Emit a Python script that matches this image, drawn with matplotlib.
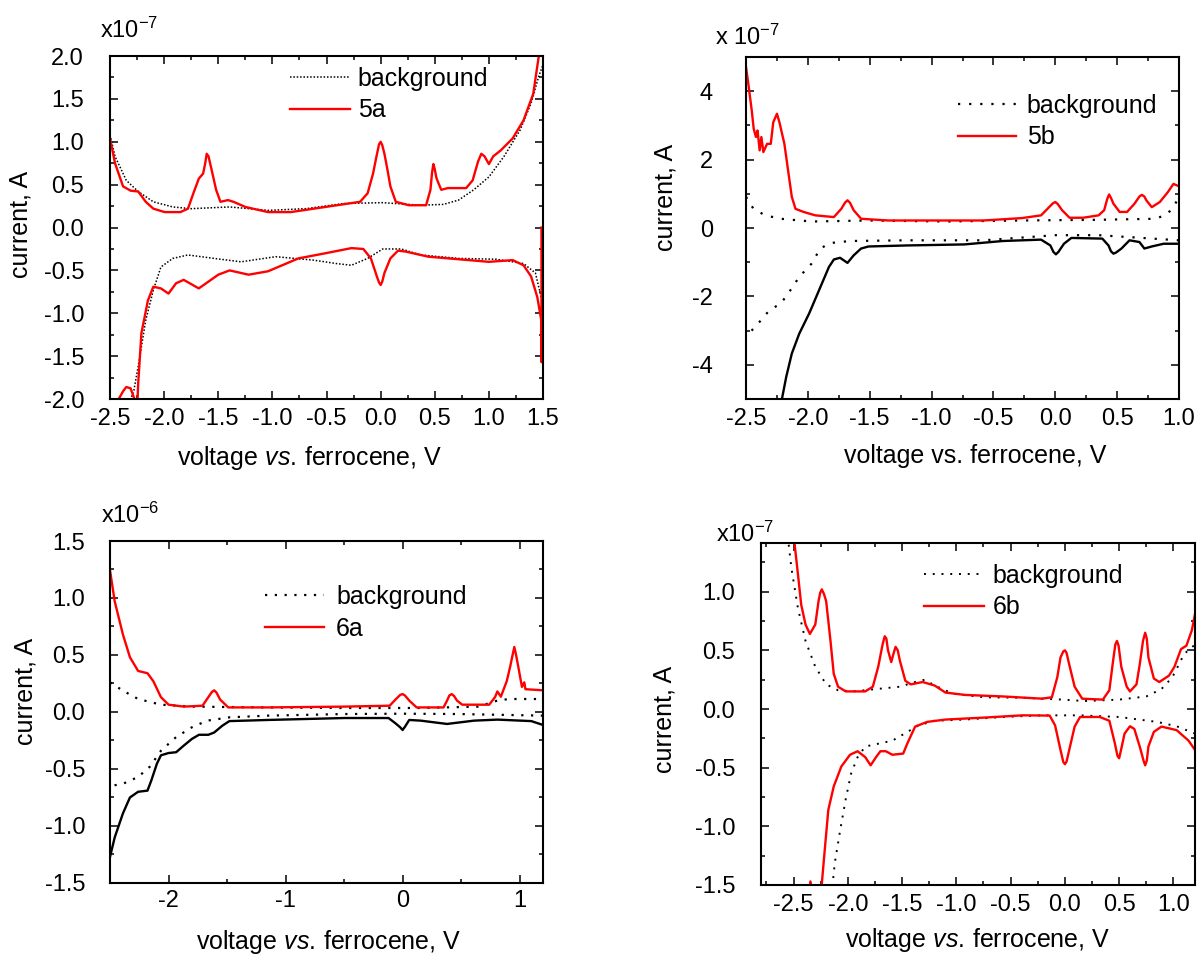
import matplotlib

matplotlib.use("Agg")
import matplotlib.pyplot as plt
from matplotlib.ticker import FormatStrFormatter, MultipleLocator

plt.rcParams["font.family"] = ["Liberation Sans", "DejaVu Sans"]
plt.rcParams["mathtext.fontset"] = "custom"
plt.rcParams["mathtext.rm"] = "Liberation Sans"
plt.rcParams["mathtext.it"] = "Liberation Sans:italic"
plt.rcParams["axes.unicode_minus"] = False

RED = "#ff0000"

# ---- 5a (current in 1e-7 A) ----
A5_SAMPLE_FWD_V = [-2.5, -2.454, -2.38, -2.31, -2.24, -2.17, -2.10, -1.995, -1.85, -1.78, -1.73, -1.68,
                   -1.64, -1.622, -1.607, -1.59, -1.57, -1.52, -1.48, -1.41, -1.36, -1.25, -1.04, -0.83,
                   -0.51, -0.19, -0.12, -0.07, -0.04, -0.015, 0.0, 0.015, 0.035, 0.065, 0.09, 0.14, 0.26,
                   0.42, 0.46, 0.475, 0.487, 0.50, 0.515, 0.53, 0.56, 0.62, 0.79, 0.85, 0.90, 0.93, 0.96,
                   1.0, 1.04, 1.11, 1.22, 1.32, 1.41, 1.46, 1.50]
A5_SAMPLE_FWD_I = [1.04, 0.75, 0.48, 0.43, 0.42, 0.30, 0.22, 0.18, 0.18, 0.22, 0.40, 0.57,
                   0.63, 0.74, 0.86, 0.83, 0.72, 0.44, 0.30, 0.32, 0.30, 0.24, 0.18, 0.18,
                   0.24, 0.30, 0.40, 0.63, 0.82, 0.97, 1.0, 0.96, 0.86, 0.66, 0.48, 0.30, 0.26,
                   0.26, 0.44, 0.64, 0.74, 0.68, 0.58, 0.53, 0.44, 0.46, 0.46, 0.55, 0.77, 0.86, 0.83,
                   0.74, 0.83, 0.90, 1.04, 1.25, 1.56, 1.99, 2.2]
A5_SAMPLE_REV_V = [1.486, 1.486, 1.484, 1.447, 1.39, 1.32, 1.22, 1.0, 0.72, 0.44, 0.23, 0.16, 0.09, 0.035,
                   0.015, 0.0, -0.015, -0.035, -0.09, -0.16, -0.27, -0.51, -0.76, -1.04, -1.22, -1.395,
                   -1.50, -1.68, -1.82, -1.89, -1.96, -2.03, -2.10, -2.15, -2.21, -2.24, -2.255, -2.265,
                   -2.275, -2.31, -2.35, -2.38, -2.42, -2.44]
A5_SAMPLE_REV_I = [0.0, -1.57, -1.08, -0.81, -0.57, -0.44, -0.38, -0.40, -0.37, -0.34, -0.28, -0.27, -0.36, -0.53,
                   -0.63, -0.67, -0.64, -0.57, -0.36, -0.25, -0.24, -0.30, -0.36, -0.51, -0.55, -0.50,
                   -0.55, -0.71, -0.61, -0.65, -0.77, -0.71, -0.69, -0.85, -1.23, -1.82, -2.3, -2.3,
                   -2.0, -1.875, -1.86, -1.91, -2.0, -2.2]
A5_BG_FWD_V = [-2.5, -2.454, -2.35, -2.24, -2.10, -1.92, -1.75, -1.395, -1.04, -0.69, -0.34, 0.02, 0.37,
               0.58, 0.72, 0.86, 1.0, 1.14, 1.29, 1.39, 1.46, 1.5]
A5_BG_FWD_I = [1.08, 0.83, 0.55, 0.42, 0.30, 0.24, 0.22, 0.24, 0.20, 0.22, 0.28, 0.29, 0.26,
               0.27, 0.32, 0.44, 0.59, 0.83, 1.14, 1.45, 1.76, 1.90]
A5_BG_REV_V = [1.49, 1.43, 1.32, 1.07, 0.72, 0.37, 0.19, 0.02, -0.12, -0.27, -0.41, -0.62, -0.97, -1.29,
               -1.54, -1.78, -1.92, -2.03, -2.10, -2.17, -2.24, -2.28, -2.31, -2.33]
A5_BG_REV_I = [-0.85, -0.53, -0.42, -0.37, -0.36, -0.32, -0.25, -0.25, -0.36, -0.44, -0.42, -0.38, -0.34, -0.40,
               -0.36, -0.32, -0.36, -0.46, -0.73, -1.08, -1.62, -1.90, -2.0, -2.2]

# ---- 5b (current in 1e-7 A) ----
B5_SAMPLE_FWD_V = [-2.5, -2.485, -2.454, -2.438, -2.42, -2.407, -2.39, -2.376, -2.36, -2.33, -2.30, -2.28,
                   -2.25, -2.23, -2.19, -2.16, -2.13, -2.10, -2.035, -1.94, -1.79, -1.73, -1.70, -1.68,
                   -1.66, -1.63, -1.57, -1.35, -0.89, -0.58, -0.27, -0.115, -0.05, -0.02, 0.0, 0.02, 0.055,
                   0.115, 0.225, 0.35, 0.395, 0.42, 0.435, 0.45, 0.47, 0.52, 0.58, 0.64, 0.68, 0.70, 0.72,
                   0.736, 0.78, 0.845, 0.91, 0.955, 1.0]
B5_SAMPLE_FWD_I = [4.70, 4.31, 3.44, 2.90, 2.66, 2.85, 2.27, 2.66, 2.22, 2.46, 2.46, 3.09,
                   3.34, 3.09, 2.46, 1.68, 0.91, 0.56, 0.47, 0.37, 0.32, 0.56, 0.74, 0.81,
                   0.74, 0.52, 0.27, 0.22, 0.22, 0.22, 0.29, 0.37, 0.61, 0.72, 0.76, 0.70, 0.52,
                   0.30, 0.30, 0.37, 0.52, 0.85, 0.98, 0.88, 0.71, 0.47, 0.47, 0.71, 0.92, 0.97, 0.92,
                   0.81, 0.61, 0.76, 1.05, 1.29, 1.22]
B5_SAMPLE_REV_V = [1.0, 0.876, 0.78, 0.72, 0.68, 0.60, 0.535, 0.49, 0.47, 0.45, 0.43, 0.38, 0.13, 0.07, 0.025,
                   0.005, -0.015, -0.04, -0.115, -0.425, -0.735, -1.20, -1.51, -1.57, -1.63, -1.68, -1.74,
                   -1.79, -1.83, -1.91, -1.99, -2.07, -2.13, -2.175, -2.21, -2.23]
B5_SAMPLE_REV_I = [-0.46, -0.46, -0.54, -0.60, -0.41, -0.36, -0.60, -0.72, -0.75, -0.68, -0.51, -0.31, -0.29,
                   -0.46, -0.70, -0.77, -0.70, -0.51, -0.34, -0.38, -0.48, -0.51, -0.54, -0.60, -0.80,
                   -1.02, -0.87, -0.92, -1.14, -1.82, -2.50, -3.09, -3.67, -4.35, -5.0, -5.5]
B5_BG_FWD_V = [-2.5, -2.44, -2.345, -2.22, -1.97, -1.51, -0.89, -0.27, 0.35, 0.815, 0.91, 0.97, 1.0]
B5_BG_FWD_I = [0.91, 0.56, 0.37, 0.27, 0.19, 0.22, 0.19, 0.22, 0.24, 0.27, 0.42, 0.71, 0.91]
B5_BG_REV_V = [1.0, 0.66, 0.35, 0.0, -0.27, -0.58, -1.20, -1.66, -1.82, -1.90, -1.97, -2.07, -2.16, -2.22,
               -2.31, -2.38, -2.44, -2.5]
B5_BG_REV_I = [-0.36, -0.28, -0.21, -0.21, -0.28, -0.36, -0.36, -0.38, -0.44, -0.60, -1.04, -1.43, -1.92, -2.21,
               -2.40, -2.70, -2.94, -3.18]

# ---- 6a (current in 1e-6 A) ----
A6_SAMPLE_FWD_V = [-2.5, -2.46, -2.39, -2.33, -2.26, -2.18, -2.13, -2.065, -2.0, -1.87, -1.71, -1.66, -1.63,
                   -1.61, -1.59, -1.56, -1.49, -1.15, -0.50, -0.11, -0.06, -0.02, 0.0, 0.02, 0.057, 0.12,
                   0.35, 0.38, 0.40, 0.42, 0.44, 0.465, 0.51, 0.74, 0.79, 0.81, 0.84, 0.89, 0.92, 0.94,
                   0.955, 0.97, 0.99, 1.02, 1.04, 1.05, 1.2]
A6_SAMPLE_FWD_I = [1.24, 0.97, 0.68, 0.48, 0.36, 0.34, 0.27, 0.13, 0.064, 0.047, 0.055, 0.13, 0.175,
                   0.19, 0.17, 0.11, 0.04, 0.04, 0.047, 0.055, 0.11, 0.15, 0.157, 0.145, 0.10, 0.04,
                   0.04, 0.10, 0.145, 0.157, 0.14, 0.10, 0.064, 0.064, 0.13, 0.18, 0.134, 0.27, 0.40, 0.50,
                   0.57, 0.50, 0.39, 0.22, 0.26, 0.20, 0.19]
A6_SAMPLE_REV_V = [1.2, 1.10, 0.81, 0.61, 0.38, 0.155, 0.057, 0.02, 0.0, -0.02, -0.06, -0.12, -0.50, -1.15,
                   -1.48, -1.54, -1.61, -1.66, -1.74, -1.80, -1.87, -1.935, -2.0, -2.065, -2.10, -2.147,
                   -2.18, -2.26, -2.33, -2.39, -2.46, -2.5]
A6_SAMPLE_REV_I = [-0.114, -0.08, -0.067, -0.076, -0.105, -0.076, -0.07, -0.13, -0.158, -0.135, -0.10, -0.053,
                   -0.053, -0.07, -0.08, -0.12, -0.18, -0.20, -0.20, -0.236, -0.295, -0.353, -0.36, -0.38,
                   -0.455, -0.60, -0.69, -0.70, -0.75, -0.89, -1.10, -1.27]
A6_BG_FWD_V = [-2.5, -2.39, -2.26, -2.065, -1.80, -1.15, -0.50, 0.155, 0.645, 0.81, 0.91, 1.2]
A6_BG_FWD_I = [0.26, 0.187, 0.114, 0.064, 0.047, 0.04, 0.035, 0.035, 0.047, 0.10, 0.114, 0.114]
A6_BG_REV_V = [1.2, 0.48, 0.0, -0.5, -1.15, -1.48, -1.67, -1.80, -1.935, -2.065, -2.16, -2.26, -2.39, -2.5]
A6_BG_REV_I = [-0.032, -0.018, -0.015, -0.018, -0.032, -0.047, -0.076, -0.134, -0.22, -0.34, -0.48, -0.57,
               -0.63, -0.65]

# ---- 6b (current in 1e-7 A) ----
B6_SAMPLE_FWD_V = [-2.49, -2.46, -2.43, -2.39, -2.35, -2.30, -2.27, -2.255, -2.24, -2.22, -2.20, -2.16, -2.13,
                   -2.09, -2.02, -1.84, -1.77, -1.72, -1.68, -1.66, -1.645, -1.63, -1.60, -1.58, -1.56,
                   -1.54, -1.52, -1.47, -1.42, -1.31, -1.20, -1.10, -0.92, -0.57, -0.21, -0.12, -0.07,
                   -0.04, -0.015, 0.0, 0.015, 0.04, 0.09, 0.16, 0.35, 0.41, 0.44, 0.465, 0.48, 0.495,
                   0.52, 0.57, 0.60, 0.66, 0.69, 0.72, 0.74, 0.755, 0.77, 0.82, 0.87, 0.96, 1.01, 1.07,
                   1.12, 1.17, 1.2]
B6_SAMPLE_FWD_I = [1.40, 1.15, 0.89, 0.72, 0.64, 0.72, 0.92, 0.99, 1.02, 0.98, 0.92, 0.58, 0.30,
                   0.19, 0.15, 0.15, 0.19, 0.36, 0.55, 0.62, 0.60, 0.50, 0.40, 0.47, 0.53,
                   0.50, 0.41, 0.24, 0.21, 0.23, 0.20, 0.14, 0.12, 0.107, 0.088, 0.10, 0.27,
                   0.44, 0.49, 0.50, 0.48, 0.38, 0.19, 0.088, 0.08, 0.16, 0.38, 0.55, 0.58, 0.54,
                   0.36, 0.19, 0.15, 0.21, 0.38, 0.58, 0.65, 0.60, 0.44, 0.26, 0.23, 0.285, 0.36, 0.51,
                   0.54, 0.67, 0.81]
B6_SAMPLE_REV_V = [1.2, 1.14, 1.03, 0.89, 0.82, 0.77, 0.755, 0.74, 0.725, 0.69, 0.64, 0.60, 0.55, 0.515,
                   0.50, 0.485, 0.46, 0.41, 0.32, 0.14, 0.09, 0.04, 0.015, 0.0, -0.015, -0.04, -0.09, -0.14,
                   -0.39, -0.74, -1.10, -1.27, -1.38, -1.45, -1.49, -1.59, -1.65, -1.70, -1.74, -1.79,
                   -1.84, -1.91, -1.98, -2.06, -2.13, -2.18, -2.21, -2.24, -2.25, -2.32, -2.345, -2.36]
B6_SAMPLE_REV_I = [-0.35, -0.27, -0.18, -0.15, -0.195, -0.32, -0.44, -0.48, -0.44, -0.32, -0.17, -0.147, -0.21,
                   -0.36, -0.42, -0.40, -0.29, -0.10, -0.068, -0.068, -0.15, -0.35, -0.45, -0.47, -0.45,
                   -0.35, -0.14, -0.056, -0.054, -0.073, -0.09, -0.11, -0.15, -0.29, -0.38, -0.39, -0.36,
                   -0.36, -0.41, -0.48, -0.41, -0.36, -0.39, -0.49, -0.66, -0.86, -1.17, -1.49, -1.6,
                   -1.6, -1.47, -1.6]
B6_BG_FWD_V = [-2.545, -2.52, -2.46, -2.39, -2.30, -2.20, -2.09, -1.95, -1.74, -1.52, -1.38, -1.29, -1.20,
               -1.03, -0.74, -0.39, -0.02, 0.18, 0.50, 0.75, 0.89, 0.99, 1.10, 1.2]
B6_BG_FWD_I = [1.40, 1.20, 0.86, 0.58, 0.36, 0.21, 0.16, 0.15, 0.17, 0.19, 0.23, 0.25, 0.20,
               0.13, 0.10, 0.096, 0.08, 0.068, 0.08, 0.107, 0.17, 0.27, 0.47, 0.55]
B6_BG_REV_V = [1.2, 1.03, 0.85, 0.50, 0.14, -0.21, -0.57, -0.92, -1.20, -1.35, -1.45, -1.59, -1.74, -1.84,
               -1.91, -1.97, -2.02, -2.07, -2.12, -2.14, -2.16]
B6_BG_REV_I = [-0.21, -0.147, -0.11, -0.068, -0.054, -0.054, -0.068, -0.09, -0.10, -0.14, -0.195, -0.27, -0.30,
               -0.32, -0.41, -0.55, -0.77, -1.03, -1.31, -1.49, -1.6]


def style_axes(ax, xlim, ylim, xmaj, xmin, ymaj, ymin, xfmt, yfmt, xpad, ypad):
    ax.set_xlim(*xlim)
    ax.set_ylim(*ylim)
    ax.xaxis.set_major_locator(MultipleLocator(xmaj))
    ax.xaxis.set_minor_locator(MultipleLocator(xmin))
    ax.yaxis.set_major_locator(MultipleLocator(ymaj))
    ax.yaxis.set_minor_locator(MultipleLocator(ymin))
    ax.xaxis.set_major_formatter(FormatStrFormatter(xfmt))
    ax.yaxis.set_major_formatter(FormatStrFormatter(yfmt))
    ax.tick_params(which="both", direction="in", top=True, right=True, width=1.1, labelsize=17)
    ax.tick_params(which="major", length=6)
    ax.tick_params(which="minor", length=3)
    ax.tick_params(axis="x", pad=xpad)
    ax.tick_params(axis="y", pad=ypad)
    for spine in ax.spines.values():
        spine.set_linewidth(1.5)


def draw_panel(ax, bg, sample, rev_color, label, bg_style, legend_at):
    bg_lw, bg_dash = bg_style
    ax.plot(bg[0], bg[1], color="black", lw=bg_lw, linestyle=(0, bg_dash), label="background")
    ax.plot(bg[2], bg[3], color="black", lw=bg_lw, linestyle=(0, bg_dash))
    ax.plot(sample[0], sample[1], color=RED, lw=1.7, label=label)
    ax.plot(sample[2], sample[3], color=rev_color, lw=1.7)
    x, y, hlen, hpad = legend_at
    ax.legend(loc="upper left", bbox_to_anchor=(x, y), frameon=False, fontsize=18,
              handlelength=hlen, handletextpad=hpad, labelspacing=0.3,
              borderpad=0, borderaxespad=0)


def main():
    fig = plt.figure(figsize=(12, 9.56), dpi=100)
    ax1 = fig.add_axes([0.0917, 0.5826, 0.3608, 0.3588])
    ax2 = fig.add_axes([0.6217, 0.5826, 0.3608, 0.3578])
    ax3 = fig.add_axes([0.0917, 0.0764, 0.3608, 0.3577])
    ax4 = fig.add_axes([0.6342, 0.0743, 0.3617, 0.3577])

    draw_panel(ax1, (A5_BG_FWD_V, A5_BG_FWD_I, A5_BG_REV_V, A5_BG_REV_I),
               (A5_SAMPLE_FWD_V, A5_SAMPLE_FWD_I, A5_SAMPLE_REV_V, A5_SAMPLE_REV_I),
               RED, "5a", (1.1, (1, 1.2)), (0.416, 0.968, 2.4, 0.3))
    draw_panel(ax2, (B5_BG_FWD_V, B5_BG_FWD_I, B5_BG_REV_V, B5_BG_REV_I),
               (B5_SAMPLE_FWD_V, B5_SAMPLE_FWD_I, B5_SAMPLE_REV_V, B5_SAMPLE_REV_I),
               "black", "5b", (1.6, (1, 4)), (0.49, 0.892, 2.33, 0.42))
    draw_panel(ax3, (A6_BG_FWD_V, A6_BG_FWD_I, A6_BG_REV_V, A6_BG_REV_I),
               (A6_SAMPLE_FWD_V, A6_SAMPLE_FWD_I, A6_SAMPLE_REV_V, A6_SAMPLE_REV_I),
               "black", "6a", (1.6, (1, 3.4)), (0.358, 0.871, 2.37, 0.47))
    draw_panel(ax4, (B6_BG_FWD_V, B6_BG_FWD_I, B6_BG_REV_V, B6_BG_REV_I),
               (B6_SAMPLE_FWD_V, B6_SAMPLE_FWD_I, B6_SAMPLE_REV_V, B6_SAMPLE_REV_I),
               RED, "6b", (1.4, (1, 3.5)), (0.376, 0.939, 2.4, 0.34))

    style_axes(ax1, (-2.5, 1.5), (-2.0, 2.0), 0.5, 0.25, 0.5, 0.25, "%.1f", "%.1f", 6.5, 18.7)
    style_axes(ax2, (-2.5, 1.0), (-5.0, 5.0), 0.5, 0.25, 2, 1, "%.1f", "%d", 6.5, 23.8)
    style_axes(ax3, (-2.5, 1.2), (-1.5, 1.5), 1, 0.5, 0.5, 0.25, "%d", "%.1f", 5.0, 18.0)
    style_axes(ax4, (-2.8, 1.2), (-1.5, 1.415), 0.5, 0.25, 0.5, 0.25, "%.1f", "%.1f", 6.5, 18.7)

    italic_label = "voltage $\\it{vs.}\\,$ferrocene, V"
    ax1.set_xlabel(italic_label, fontsize=18)
    ax2.set_xlabel("voltage vs. ferrocene, V", fontsize=18)
    ax3.set_xlabel(italic_label, fontsize=18)
    ax4.set_xlabel(italic_label, fontsize=18)
    for ax in (ax1, ax2, ax3, ax4):
        ax.set_ylabel("current, A", fontsize=18)

    ax1.xaxis.set_label_coords(0.46, -0.131)
    ax2.xaxis.set_label_coords(0.53, -0.131)
    ax3.xaxis.set_label_coords(0.505, -0.133)
    ax4.xaxis.set_label_coords(0.50, -0.119)
    ax1.yaxis.set_label_coords(-0.178, 0.51)
    ax2.yaxis.set_label_coords(-0.158, 0.59)
    ax3.yaxis.set_label_coords(-0.168, 0.56)
    ax4.yaxis.set_label_coords(-0.194, 0.485)

    ax1.text(-0.023, 1.052, "x10$^{-7}$", transform=ax1.transAxes, fontsize=17, va="baseline")
    ax2.text(-0.072, 1.035, "x 10$^{-7}$", transform=ax2.transAxes, fontsize=17, va="baseline")
    ax3.text(-0.021, 1.053, "x10$^{-6}$", transform=ax3.transAxes, fontsize=17, va="baseline")
    ax4.text(-0.104, 1.003, "x10$^{-7}$", transform=ax4.transAxes, fontsize=17, va="baseline")

    fig.savefig("out.png", dpi=100)
    plt.close(fig)


if __name__ == "__main__":
    main()
